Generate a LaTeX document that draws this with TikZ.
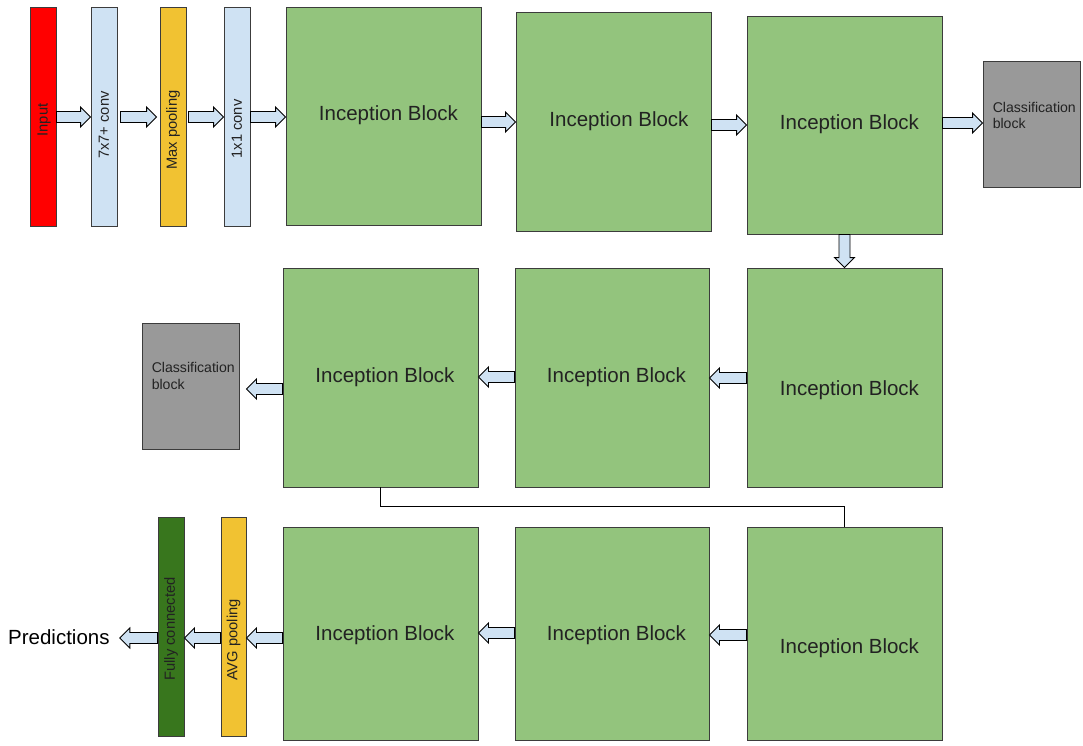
\documentclass[tikz,border=0pt]{standalone}
\usepackage{fontspec}
\setmainfont{Liberation Sans}
\usetikzlibrary{calc}

\definecolor{incgreen}{HTML}{93C47D}
\definecolor{convblue}{HTML}{CFE2F3}
\definecolor{poolyellow}{HTML}{F1C232}
\definecolor{fcgreen}{HTML}{38761D}
\definecolor{clsgray}{HTML}{999999}
\definecolor{edgegray}{HTML}{3C3C3C}
\definecolor{txt}{HTML}{222222}

% hollow block arrow from #1 to #2 (tip at #2)
\newcommand\blockarrow[2]{%
  \path (#1) coordinate (ba-s) (#2) coordinate (ba-e);
  \path ($(ba-e)!10pt!(ba-s)$) coordinate (ba-h);
  \draw[barrow] ($(ba-s)!5.5pt!90:(ba-e)$) -- ($(ba-h)!5.5pt!90:(ba-e)$)
    -- ($(ba-h)!10pt!90:(ba-e)$) -- (ba-e) -- ($(ba-h)!10pt!-90:(ba-e)$)
    -- ($(ba-h)!5.5pt!-90:(ba-e)$) -- ($(ba-s)!5.5pt!-90:(ba-e)$) -- cycle;}

\tikzset{
  box/.style={draw=edgegray, line width=0.9pt, inner sep=0pt},
  inc/.style={box, fill=incgreen, minimum width=195, minimum height=218},
  inctext/.style={font=\fontsize{20.5}{24}\selectfont, text=txt, inner sep=0},
  bar/.style={box, minimum width=26, minimum height=219},
  vtext/.style={rotate=90, font=\fontsize{14.7}{17}\selectfont, text=txt, inner sep=0},
  cls/.style={box, fill=clsgray, minimum width=97, minimum height=126},
  clstext/.style={font=\fontsize{14.1}{16.5}\selectfont, align=left, text=txt,
    inner sep=0, anchor=north west},
  barrow/.style={draw=black, fill=convblue, line width=0.9pt, line join=miter},
  link/.style={draw=black, line width=0.9pt},
}

\begin{document}
\begin{tikzpicture}[x=1pt, y=-1pt]
\useasboundingbox (0,0) rectangle (1083,745);

% ---- first row: stem layers ----
\node[bar, fill=red] (input) at (43,116.5) {};
\node[bar, fill=convblue] (c7) at (104,116.5) {};
\node[bar, fill=poolyellow] (mp) at (173,116.5) {};
\node[bar, fill=convblue] (c1) at (237,116.5) {};
\node[vtext] (input-t) at ($(input.center)+(1,3.5)$) {Input};
\node[vtext] (c7-t) at ($(c7.center)+(0,8.5)$) {7x7+ conv};
\node[vtext] (mp-t) at ($(mp.center)+(0,13.5)$) {Max pooling};
\node[vtext] (c1-t) at ($(c1.center)+(0,12.5)$) {1x1 conv};

% ---- first row: inception blocks ----
\node[inc] (i1) at (383.5,116) {};
\node[inc, minimum height=219] (i2) at (613.5,121.5) {};
\node[inc] (i3) at (844.5,125) {};
\node[inctext] (i1-t) at ($(i1.center)+(5,-1)$) {Inception Block};
\node[inctext] (i2-t) at ($(i2.center)+(5.5,-0.5)$) {Inception Block};
\node[inctext] (i3-t) at ($(i3.center)+(5,-1)$) {Inception Block};
\node[cls] (cls1) at (1031.5,124.5) {};
\node[clstext] (cls1-t) at ($(cls1.north west)+(10,41)$) {Classification\\block};

% ---- second row ----
\node[inc, minimum height=219] (r2a) at (844.5,377.5) {};
\node[inc, minimum width=194, minimum height=219] (r2b) at (612,377.5) {};
\node[inc, minimum height=219] (r2c) at (380.5,377.5) {};
\node[inctext] (r2a-t) at ($(r2a.center)+(5,12.5)$) {Inception Block};
\node[inctext] (r2b-t) at ($(r2b.center)+(4.5,-0.5)$) {Inception Block};
\node[inctext] (r2c-t) at ($(r2c.center)+(4.5,-0.5)$) {Inception Block};
\node[cls] (cls2) at (190.5,386) {};
\node[clstext] (cls2-t) at ($(cls2.north west)+(10,40)$) {Classification\\block};

% ---- third row ----
\node[inc, minimum height=213] (r3d) at (844.5,633.5) {};
\node[inc, minimum width=194, minimum height=213] (r3e) at (612,633.5) {};
\node[inc, minimum height=213] (r3f) at (380.5,633.5) {};
\node[inctext] (r3d-t) at ($(r3d.center)+(5,14.5)$) {Inception Block};
\node[inctext] (r3e-t) at ($(r3e.center)+(4.5,1.5)$) {Inception Block};
\node[inctext] (r3f-t) at ($(r3f.center)+(4.5,1.5)$) {Inception Block};
\node[bar, fill=poolyellow, minimum width=25] (avg) at (233.5,626.5) {};
\node[bar, fill=fcgreen] (fc) at (171,626.5) {};
\node[vtext] (avg-t) at ($(avg.center)+(0,13.5)$) {AVG pooling};
\node[vtext] (fc-t) at ($(fc.center)+(0,2.5)$) {Fully connected};
\node[inctext, anchor=west, text=black] (pred) at (8,637) {Predictions};

% ---- connectors, first row ----
\blockarrow{input.east |- 0,117}{c7.west |- 0,117}
\blockarrow{$(c7.east |- 0,117)+(3,0)$}{$(mp.west |- 0,117)+(-3,0)$}
\blockarrow{$(mp.east |- 0,117)+(2,0)$}{c1.west |- 0,117}
\blockarrow{c1.east |- 0,117}{i1.west |- 0,117}
\blockarrow{i1.east |- 0,122}{i2.west |- 0,122}
\blockarrow{i2.east |- 0,125}{i3.west |- 0,125}
\blockarrow{i3.east |- 0,123}{cls1.west |- 0,123}
\blockarrow{i3.south}{r2a.north}

% ---- connectors, second row ----
\blockarrow{r2a.west |- 0,378}{r2b.east |- 0,378}
\blockarrow{r2b.west |- 0,377}{r2c.east |- 0,377}
\blockarrow{r2c.west |- 0,389}{$(cls2.east |- 0,389)+(7,0)$}
\draw[link] (r2c.south) -- ++(0,19) -| (r3d.north);

% ---- connectors, third row ----
\blockarrow{r3d.west |- 0,635}{r3e.east |- 0,635}
\blockarrow{r3e.west |- 0,633}{r3f.east |- 0,633}
\blockarrow{r3f.west |- 0,638}{avg.east |- 0,638}
\blockarrow{avg.west |- 0,638}{fc.east |- 0,638}
\blockarrow{fc.west |- 0,638}{$(pred.east |- 0,638)+(10,0)$}
\end{tikzpicture}
\end{document}
